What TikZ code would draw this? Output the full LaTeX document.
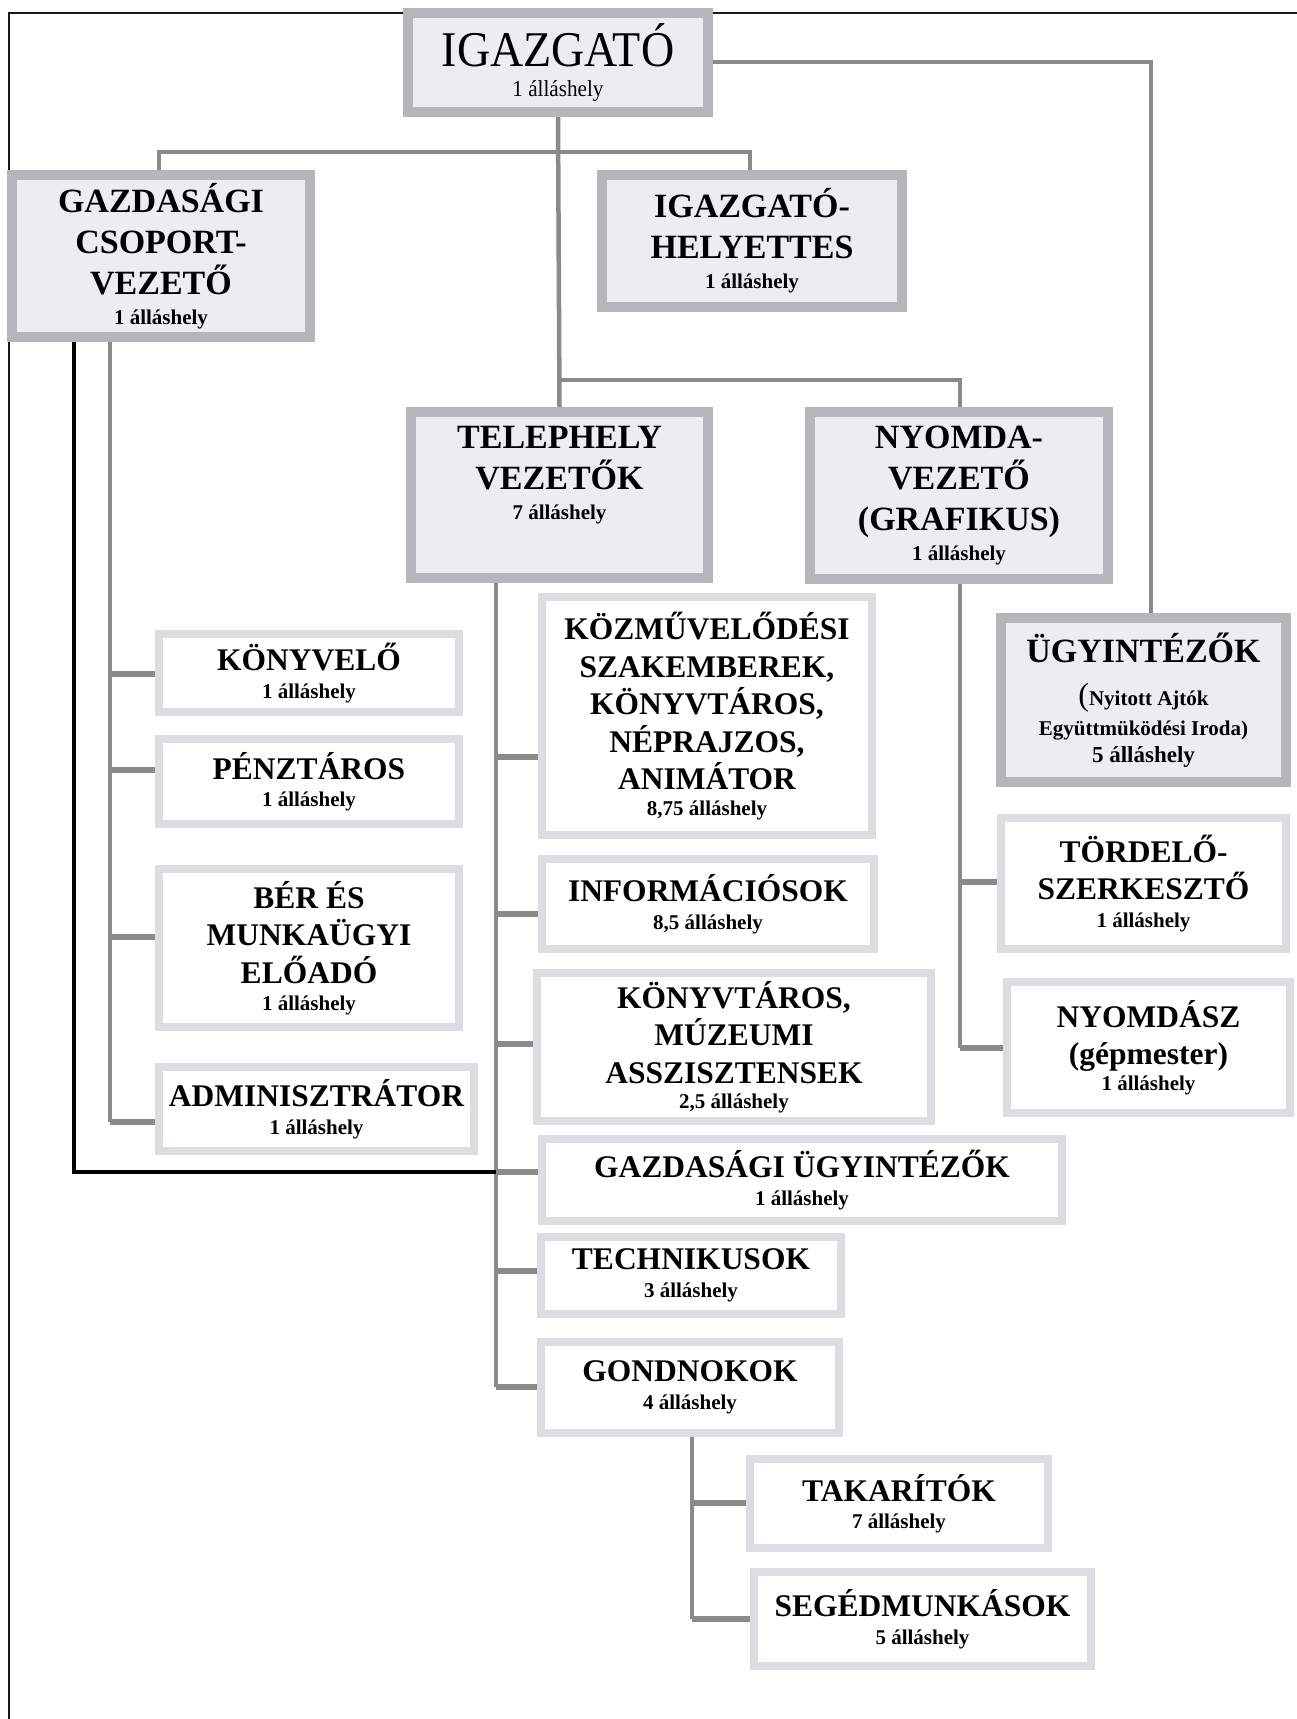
\documentclass[tikz,border=0pt]{standalone}
\usepackage{fontspec}
\setmainfont{Liberation Serif}
\newfontfamily\condfont{Liberation Serif}[FakeStretch=0.92]
\definecolor{topfill}{HTML}{EDEDF1}
\definecolor{topline}{HTML}{B6B6BA}
\definecolor{subline}{HTML}{DDDDE1}
\definecolor{conncol}{HTML}{8A8A8A}
\pgfdeclarelayer{bg}
\pgfsetlayers{bg,main}
\newcommand\sm[1]{{\fontsize{21}{25}\selectfont #1}}
\newcommand\topbox[7][]{\node[topst,#1,minimum width={(#5-#3-10)*1pt},minimum height={(#6-#4-10)*1pt}] (#2) at ({(#3+#5)/2},{(#4+#6)/2}) {#7};}
\newcommand\subbox[7][]{\node[subst,#1,minimum width={(#5-#3-8)*1pt},minimum height={(#6-#4-8)*1pt}] (#2) at ({(#3+#5)/2},{(#4+#6)/2}) {#7};}
\newcommand\stub[3]{\coordinate (tmpst) at (#1,#2); \draw[stubst] (tmpst) -- (tmpst -| #3.west);}
\begin{document}
\begin{tikzpicture}[x=1pt,y=-1pt,
  toptext/.style={align=center, inner sep=0pt, font=\fontsize{34}{41}\selectfont\bfseries},
  subtext/.style={align=center, inner sep=0pt, font=\fontsize{31.5}{37.5}\selectfont\bfseries},
  topst/.style={toptext, draw=topline, fill=topfill, line width=10pt},
  subst/.style={subtext, draw=subline, fill=white, line width=8pt},
  conn/.style={draw=conncol, line width=4.5pt, line join=miter},
  stubst/.style={draw=conncol, line width=5.5pt},
  blk/.style={draw=black, line width=4.5pt, line join=miter},
  framest/.style={draw=black!90, line width=2pt}]
\useasboundingbox (0,0) rectangle (1297,1719);

% top level boxes
\topbox[font=\condfont\fontsize{50}{58}\selectfont]{igaz}{403}{8}{713}{117}{IGAZGATÓ\\[-28pt]{\fontsize{23}{26}\selectfont 1 álláshely}}
\topbox{gaz}{7}{170}{315}{342}{GAZDASÁGI\\CSOPORT-\\VEZETŐ\\[-11pt]\sm{1 álláshely}}
\topbox{hely}{597}{170}{907}{312}{IGAZGATÓ-\\HELYETTES\\[-11pt]\sm{1 álláshely}}
\topbox{tel}{406}{407}{713}{583}{}
\node[toptext] (telt) at (559.5,475) {TELEPHELY\\VEZETŐK\\[-11pt]\sm{7 álláshely}};
\topbox{nyo}{805}{407}{1113}{584}{NYOMDA-\\VEZETŐ\\(GRAFIKUS)\\[-11pt]\sm{1 álláshely}}
\topbox{ugy}{996}{613}{1291}{787}{ÜGYINTÉZŐK\\[2pt]{\fontsize{21}{25}\selectfont{\mdseries\fontsize{32}{36}\selectfont(}Nyitott Ajtók}\\[-11pt]{\fontsize{21}{25}\selectfont Együttmüködési Iroda)}\\[-14pt]{\fontsize{23}{27}\selectfont 5 álláshely}}

% second level boxes
\subbox{kony}{155}{630}{463}{716}{KÖNYVELŐ\\[-10pt]\sm{1 álláshely}}
\subbox{pen}{155}{735}{463}{828}{PÉNZTÁROS\\[-10pt]\sm{1 álláshely}}
\subbox{ber}{155}{865}{463}{1031}{BÉR ÉS\\MUNKAÜGYI\\ELŐADÓ\\[-10pt]\sm{1 álláshely}}
\subbox{adm}{155}{1063}{478}{1155}{ADMINISZTRÁTOR\\[-10pt]\sm{1 álláshely}}
\subbox{kozm}{538}{593}{876}{839}{KÖZMŰVELŐDÉSI\\SZAKEMBEREK,\\KÖNYVTÁROS,\\NÉPRAJZOS,\\ANIMÁTOR\\[-12pt]\sm{8,75 álláshely}}
\subbox{info}{538}{855}{878}{953}{INFORMÁCIÓSOK\\[-10pt]\sm{8,5 álláshely}}
\subbox{kvt}{533}{969}{935}{1125}{KÖNYVTÁROS,\\MÚZEUMI\\ASSZISZTENSEK\\[-12pt]\sm{2,5 álláshely}}
\subbox{gu}{538}{1135}{1066}{1225}{GAZDASÁGI ÜGYINTÉZŐK\\[-10pt]\sm{1 álláshely}}
\subbox{tech}{537}{1233}{845}{1318}{TECHNIKUSOK\\[-10pt]\sm{3 álláshely}}
\subbox{gond}{537}{1338}{843}{1437}{GONDNOKOK\\[-10pt]\sm{4 álláshely}}
\subbox{tak}{746}{1455}{1052}{1552}{TAKARÍTÓK\\[-10pt]\sm{7 álláshely}}
\subbox{seg}{750}{1568}{1095}{1670}{SEGÉDMUNKÁSOK\\[-10pt]\sm{5 álláshely}}
\subbox{tord}{997}{814}{1290}{953}{TÖRDELŐ-\\SZERKESZTŐ\\[-10pt]\sm{1 álláshely}}
\subbox{nyd}{1003}{978}{1294}{1117}{NYOMDÁSZ\\(gépmester)\\[-12pt]\sm{1 álláshely}}

\begin{pgfonlayer}{bg}
\fill[white] (0,0) rectangle (1297,1719);
\draw[framest] (9,1719) -- (9,13) -- (1297,13);
% director links
\coordinate (r1) at (1151,62);
\draw[conn] (igaz.east |- r1) -- (r1) -- (r1 |- ugy.north);
\draw[conn] (igaz.south) -- (tel.north);
\coordinate (g1) at (159,152);
\coordinate (h1) at (750,152);
\draw[conn] (gaz.north -| g1) -- (g1) -- (h1) -- (hely.north -| h1);
\coordinate (n1) at (559,380);
\coordinate (n2) at (960,380);
\draw[conn] (n1) -- (n2) -- (nyo.north -| n2);
% buses
\coordinate (lb) at (110,1122);
\draw[conn] (gaz.south -| lb) -- (lb);
\coordinate (tb) at (496,1387);
\draw[conn] (tel.south -| tb) -- (tb);
\coordinate (nb) at (960,1048);
\draw[conn] (nyo.south -| nb) -- (nb);
\coordinate (gb) at (692,1619);
\draw[conn] (gond.south -| gb) -- (gb);
% stubs
\stub{110}{674}{kony}
\stub{110}{770}{pen}
\stub{110}{937}{ber}
\stub{110}{1122}{adm}
\stub{496}{757}{kozm}
\stub{496}{914}{info}
\stub{496}{1044}{kvt}
\stub{496}{1172}{gu}
\stub{496}{1271}{tech}
\stub{496}{1387}{gond}
\stub{960}{882}{tord}
\stub{960}{1048}{nyd}
\stub{692}{1503}{tak}
\stub{692}{1619}{seg}
% black line
\coordinate (b1) at (74,1172);
\coordinate (b2) at (496,1172);
\draw[blk] (gaz.south -| b1) -- (b1) -- (b2);
\end{pgfonlayer}
\end{tikzpicture}
\end{document}
